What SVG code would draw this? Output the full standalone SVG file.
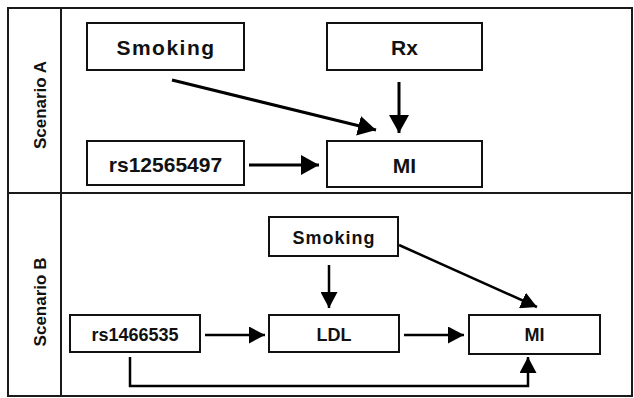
<svg xmlns="http://www.w3.org/2000/svg" width="634" height="398" viewBox="0 0 634 398">
<style>
.frame{fill:none;stroke:#1a1a1a;stroke-width:2}
.box{fill:#fff;stroke:#111;stroke-width:2}
.t{font-family:"Liberation Sans",Arial,sans-serif;font-weight:bold;fill:#111;text-anchor:middle}
.ta{font-size:21px}
.tb{font-size:18px}
.lab{font-size:17px}
.ca{fill:none;stroke:#000;stroke-width:3;marker-end:url(#ha)}
.cb{fill:none;stroke:#000;stroke-width:2.5;marker-end:url(#hb)}
</style>
<defs>
<marker id="ha" viewBox="0 0 18 20" markerWidth="18" markerHeight="20" refX="18" refY="10" orient="auto" markerUnits="userSpaceOnUse"><path d="M0,0 L18,10 L0,20 z" fill="#000"/></marker>
<marker id="hb" viewBox="0 0 16 17" markerWidth="16" markerHeight="17" refX="16" refY="8.5" orient="auto" markerUnits="userSpaceOnUse"><path d="M0,0 L16,8.5 L0,17 z" fill="#000"/></marker>
</defs>
<rect width="634" height="398" fill="#fff"/>
<g id="frame">
<rect class="frame" x="8" y="8" width="624" height="388"/>
<line class="frame" x1="8" y1="193" x2="632" y2="193"/>
<line class="frame" x1="61" y1="8" x2="61" y2="396"/>
<text class="t lab" transform="translate(46,105) rotate(-90)">Scenario A</text>
<text class="t lab" transform="translate(46,302) rotate(-90)">Scenario B</text>
</g>
<g id="connectors">
<line class="ca" x1="249" y1="165" x2="319" y2="165"/>
<line class="ca" x1="399" y1="82" x2="399" y2="133"/>
<line class="ca" x1="172" y1="80" x2="376" y2="130"/>
<line class="cb" x1="205" y1="335" x2="265" y2="335"/>
<line class="cb" x1="404" y1="335" x2="464" y2="335"/>
<line class="cb" x1="329" y1="265" x2="329" y2="308"/>
<line class="cb" x1="399" y1="245" x2="537" y2="307"/>
<polyline class="cb" points="130,357 130,386 528,386 528,357"/>
</g>
<g id="smokingA"><rect class="box" x="87" y="23" width="157" height="47"/><text class="t ta" x="166" y="55" letter-spacing="1.5">Smoking</text></g>
<g id="rx"><rect class="box" x="327" y="23" width="155" height="47"/><text class="t ta" x="404.5" y="55">Rx</text></g>
<g id="rs12565497"><rect class="box" x="87" y="141" width="157" height="44"/><text class="t ta" x="165.5" y="172">rs12565497</text></g>
<g id="miA"><rect class="box" x="327" y="141" width="155" height="46"/><text class="t ta" x="404.5" y="173">MI</text></g>
<g id="smokingB"><rect class="box" x="269" y="217" width="129" height="39"/><text class="t tb" x="334" y="244" letter-spacing="1">Smoking</text></g>
<g id="rs1466535"><rect class="box" x="70" y="315" width="130" height="37"/><text class="t tb" x="135" y="341">rs1466535</text></g>
<g id="ldl"><rect class="box" x="269" y="315" width="130" height="37"/><text class="t tb" x="334" y="341">LDL</text></g>
<g id="miB"><rect class="box" x="469" y="315" width="131" height="39"/><text class="t tb" x="534.5" y="341">MI</text></g>
</svg>
